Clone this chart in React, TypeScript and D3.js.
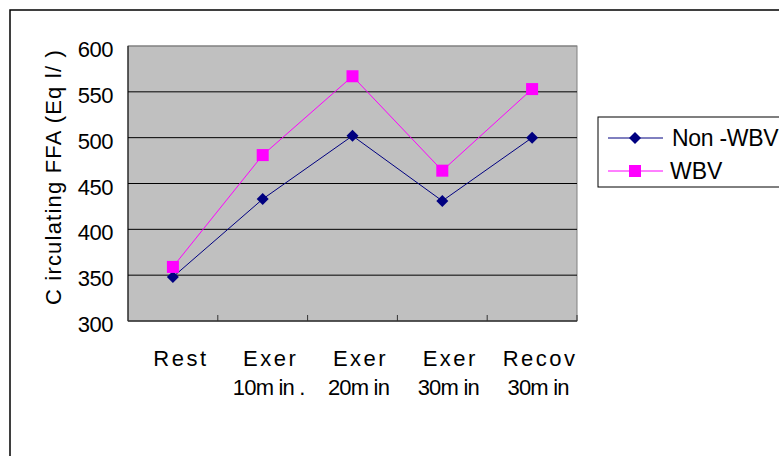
import React from "react";
import * as d3 from "d3";

const categoriesLine1 = ["Rest", "Exer", "Exer", "Exer", "Recov"];
const categoriesLine2 = ["", "10m in .", "20m in", "30m in", "30m in"];
const nonWBV = [348, 433, 502, 431, 500];
const WBV = [359, 481, 567, 464, 553];
const yTicks = [300, 350, 400, 450, 500, 550, 600];
const seriesNames = ["Non -WBV", "WBV"];

const W = 779;
const H = 456;
const plot = { left: 128, right: 577, top: 46, bottom: 321 };
const FONT = "'Liberation Sans', Arial, sans-serif";

export default function App() {
  const cats = categoriesLine1.map((_, i) => String(i));
  const x = d3.scaleBand().domain(cats).range([plot.left, plot.right]).padding(0);
  const y = d3.scaleLinear().domain([300, 600]).range([plot.bottom, plot.top]);
  const cx = (i: number) => (x(String(i)) as number) + x.bandwidth() / 2;
  const line = d3
    .line<number>()
    .x((_, i) => cx(i))
    .y((d) => y(d));
  const boundaries = d3.range(1, cats.length + 1).map((i) => plot.left + i * x.bandwidth());

  const diamond = (px: number, py: number, r = 6) =>
    `M${px},${py - r}L${px + r},${py}L${px},${py + r}L${px - r},${py}Z`;

  return (
    <svg width={W} height={H} style={{ position: "absolute", left: 0, top: 0, background: "#fff" }}>
      <rect x={0} y={0} width={W} height={H} fill="#fff" />
      <rect x={10} y={10} width={W + 20} height={H + 20} fill="none" stroke="#000" strokeWidth={1.5} />
      <rect
        x={plot.left}
        y={plot.top}
        width={plot.right - plot.left}
        height={plot.bottom - plot.top}
        fill="#c0c0c0"
        stroke="#808080"
        strokeWidth={1}
      />
      {yTicks.slice(1, -1).map((t) => (
        <line key={t} x1={plot.left} x2={plot.right} y1={y(t)} y2={y(t)} stroke="#000" strokeWidth={1} />
      ))}
      <line x1={plot.left} x2={plot.right} y1={y(600)} y2={y(600)} stroke="#808080" strokeWidth={1} />
      <line x1={plot.left} x2={plot.left} y1={plot.top} y2={plot.bottom} stroke="#000" strokeWidth={1} />
      <line x1={plot.left} x2={plot.right} y1={plot.bottom} y2={plot.bottom} stroke="#333" strokeWidth={1.5} />
      {boundaries.map((bx, i) => (
        <line key={i} x1={bx} x2={bx} y1={plot.bottom} y2={plot.bottom - 6} stroke="#333" strokeWidth={1} />
      ))}
      {yTicks.map((t) => (
        <text key={t} x={113} y={y(t) + 11} textAnchor="end" fontFamily={FONT} fontSize={22} letterSpacing={-0.5} fill="#000">
          {t}
        </text>
      ))}
      {categoriesLine1.map((c, i) => (
        <text key={i} x={cx(i)} textAnchor="middle" fontFamily={FONT} fontSize={22} fill="#000">
          <tspan x={cx(i) + 8} y={366} letterSpacing={2.5}>{c}</tspan>
          <tspan x={cx(i) + 6} y={395} letterSpacing={-0.8}>{categoriesLine2[i]}</tspan>
        </text>
      ))}
      <text
        transform={`translate(61,177) rotate(-90)`}
        textAnchor="middle"
        fontFamily={FONT}
        fontSize={22}
        letterSpacing={1.2}
        fill="#000"
      >
        C irculating FFA  (Eq l/  )
      </text>
      <path d={line(nonWBV) || ""} fill="none" stroke="#000080" strokeWidth={1} />
      <path d={line(WBV) || ""} fill="none" stroke="#ff00ff" strokeWidth={1} />
      {nonWBV.map((v, i) => (
        <path key={i} d={diamond(cx(i), y(v))} fill="#000080" />
      ))}
      {WBV.map((v, i) => (
        <rect key={i} x={cx(i) - 6} y={y(v) - 6} width={12} height={12} fill="#ff00ff" />
      ))}
      <rect x={598} y={117} width={200} height={70} fill="#fff" stroke="#000" strokeWidth={1} />
      <line x1={608} x2={663} y1={138} y2={138} stroke="#000080" strokeWidth={1} />
      <path d={diamond(635, 138)} fill="#000080" />
      <text x={672} y={146} fontFamily={FONT} fontSize={23} letterSpacing={-0.3} fill="#000">{seriesNames[0]}</text>
      <line x1={608} x2={663} y1={171} y2={171} stroke="#ff00ff" strokeWidth={1} />
      <rect x={629} y={165} width={12} height={12} fill="#ff00ff" />
      <text x={670} y={179} fontFamily={FONT} fontSize={23} fill="#000">{seriesNames[1]}</text>
    </svg>
  );
}
